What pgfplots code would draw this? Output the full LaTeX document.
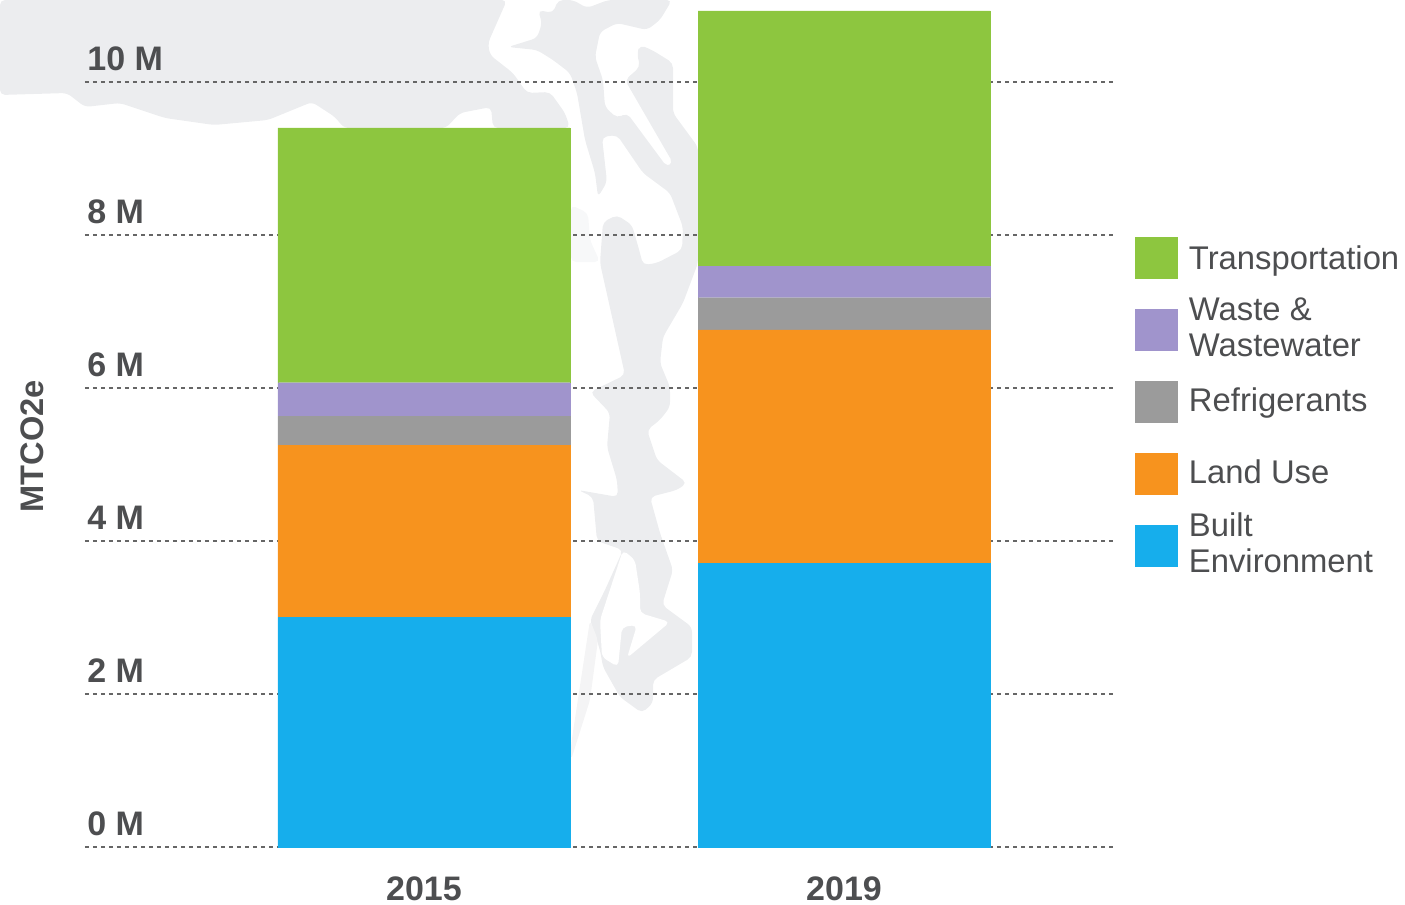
\documentclass[border=0pt]{standalone}
\usepackage{fontspec}
\setmainfont{Liberation Sans}
\usepackage{pgfplots}
\pgfplotsset{compat=1.18}
\definecolor{mapgray}{HTML}{ECEDEF}
\definecolor{labelgray}{HTML}{4D4E50}
\definecolor{gridgray}{HTML}{666666}
\definecolor{cblue}{HTML}{16AEEC}
\definecolor{corange}{HTML}{F7931E}
\definecolor{cgray}{HTML}{9B9B9B}
\definecolor{cpurple}{HTML}{A094CC}
\definecolor{cgreen}{HTML}{8DC63F}
\pgfplotstableread{
x built land refrig waste transport
0 3.00  2.25 0.38   0.44  3.33
1 3.71  3.05 0.42   0.41  3.34
}\emissions
% #1 nudges the text up inside its row
\newcommand{\legtext}[2][0pt]{\raisebox{#1}[17pt][17pt]{\parbox[c][34pt][c]{112pt}{\fontsize{16.4}{18}\selectfont\color{labelgray}#2}}}
\pgfplotsset{
  sq/.style={fill=#1,draw=#1,line width=0.1pt,
    legend image code/.code={\fill[#1,draw=none] (0pt,-15.9pt) rectangle (21.5pt,5.5pt);}},
}
\begin{document}
\begin{tikzpicture}
\path[use as bounding box] (0,0) rectangle (702.5pt,-452.5pt);
% background map, in pixels of the reference
\begin{scope}[x=0.5pt,y=-0.5pt,rounded corners=2.5pt]
\fill[mapgray] (0,0) -- (507,0) -- (488,43) -- (490,55) -- (513,73) -- (527,93) -- (550,92) -- (565,113) -- (570,128)
  -- (493,128) -- (491,107) -- (460,113) -- (446,128) -- (344,128) -- (335,117) -- (312,102) -- (268,120) -- (214,125)
  -- (165,118) -- (120,103) -- (85,107) -- (67,93) -- (0,95) -- cycle;
\fill[mapgray] (508,47) -- (537,38) -- (542,23) -- (538,10) -- (553,13) -- (558,0) -- (573,0) -- (587,8) -- (608,0)
  -- (672,0) -- (660,20) -- (647,30) -- (617,23) -- (600,32) -- (595,57) -- (603,80) -- (605,107) -- (617,118)
  -- (627,113) -- (667,167) -- (673,163) -- (625,80) -- (640,67) -- (637,53) -- (640,45) -- (652,50) -- (673,63)
  -- (673,113) -- (698,147) -- (698,263) -- (683,303) -- (663,337) -- (660,363) -- (670,387) -- (670,407) -- (660,420)
  -- (647,430) -- (657,460) -- (687,483) -- (677,490) -- (650,497) -- (660,533) -- (673,570) -- (662,605) -- (692,627)
  -- (692,657) -- (653,680) -- (653,703) -- (642,713) -- (620,697) -- (603,667) -- (600,650) -- (590,620) -- (605,590)
  -- (623,550) -- (597,541) -- (593,497) -- (578,490) -- (618,497) -- (617,480) -- (607,447) -- (610,413) -- (590,392)
  -- (625,375) -- (600,263) -- (603,222) -- (617,215) -- (632,225) -- (640,253) -- (643,265) -- (657,263) -- (682,250)
  -- (683,227) -- (670,193) -- (643,173) -- (617,135) -- (602,137) -- (607,182) -- (598,197) -- (595,173) -- (585,140)
  -- (577,93) -- (570,73) -- (553,60) -- (537,50) -- cycle;
\fill[white] (623,550) -- (635,560) -- (640,593) -- (640,613) -- (670,622) -- (627,658) -- (637,625) -- (622,627)
  -- (618,667) -- (602,657) -- (600,620) -- cycle;
\fill[mapgray!40] (571,205) -- (588,213) -- (590,240) -- (600,262) -- (571,262) -- cycle;
\fill[mapgray!60] (590,620) -- (598,640) -- (590,700) -- (571,760) -- (571,745) -- cycle;
\end{scope}
\begin{axis}[
  at={(42.5pt,-423.5pt)},
  anchor=south west,
  scale only axis,
  width=515pt,
  height=423.5pt,
  xmin=-0.807, xmax=1.645,
  ymin=0, ymax=11.072,
  ybar stacked,
  bar width=146pt,
  axis line style={draw=none},
  major tick length=0pt,
  xtick=data,
  xticklabels={2015,2019},
  ytick={0,2,4,6,8,10},
  yticklabels={0 M,2 M,4 M,6 M,8 M,10 M},
  ymajorgrids,
  grid style={draw=gridgray,line width=1pt,dash pattern=on 2pt off 2pt},
  tick label style={font=\fontsize{17}{20}\selectfont\bfseries,text=labelgray,inner sep=0pt},
  yticklabel style={anchor=south west,xshift=1pt,yshift=5.5pt},
  xticklabel style={anchor=north,yshift=-14.5pt},
  ylabel={MTCO2e},
  ylabel style={at={(axis description cs:-0.0515,0.473)},anchor=center,
    font=\fontsize{16.3}{20}\selectfont\bfseries,text=labelgray,inner sep=0pt},
  reverse legend,
  legend cell align=left,
  legend style={at={(axis description cs:1.0194,0.7296)},anchor=north west,draw=none,fill=none,
    inner sep=0pt,outer sep=0pt,row sep=10.85pt,
    nodes={inner sep=0pt,outer sep=0pt},
    /tikz/every odd column/.style={column sep=5.5pt}},
]
\addplot[sq=cblue] table[x=x,y=built] {\emissions};
\addlegendentry{\legtext[1.5pt]{Built\\Environment}}
\addplot[sq=corange] table[x=x,y=land] {\emissions};
\addlegendentry{\legtext[1pt]{Land Use}}
\addplot[sq=cgray] table[x=x,y=refrig] {\emissions};
\addlegendentry{\legtext[-0.5pt]{Refrigerants}}
\addplot[sq=cpurple] table[x=x,y=waste] {\emissions};
\addlegendentry{\legtext[1.25pt]{Waste \&\\Wastewater}}
\addplot[sq=cgreen] table[x=x,y=transport] {\emissions};
\addlegendentry{\legtext[-1.5pt]{Transportation}}
\end{axis}
\end{tikzpicture}
\end{document}
